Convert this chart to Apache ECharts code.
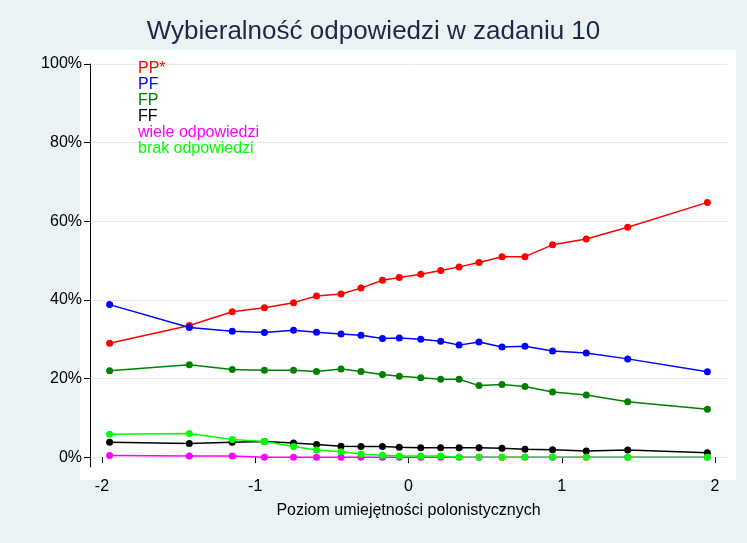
<!DOCTYPE html>
<html><head><meta charset="utf-8">
<script src="https://cdn.jsdelivr.net/npm/echarts@6/dist/echarts.min.js"></script>
<style>html,body{margin:0;padding:0;background:#eaf2f3}#c{width:747px;height:543px}</style>
</head><body><div id="c"></div>
<script>
// poziom umiejętności (oś X)
var xs = [-1.95,-1.43,-1.15,-0.94,-0.75,-0.60,-0.44,-0.31,-0.17,-0.06,0.08,0.21,0.33,0.46,0.61,0.76,0.94,1.16,1.43,1.95];
var xTicks = [-2,-1,0,1,2];
var yTicks = [0,20,40,60,80,100];
var names = ['PP*','PF','FP','FF','wiele odpowiedzi','brak odpowiedzi'];
var colors = ['#ff0000','#0000ff','#008000','#000000','#ff00ff','#00ff00'];
var pp = [29,33.5,37,38,39.3,41,41.5,43,45,45.7,46.5,47.5,48.4,49.5,51,51,54,55.5,58.5,64.8];
var pf = [38.8,33,32,31.7,32.3,31.8,31.3,31,30.2,30.3,30,29.5,28.5,29.3,28,28.2,27,26.5,25,21.7];
var fp = [22,23.5,22.3,22.1,22.1,21.8,22.4,21.8,21,20.6,20.2,19.8,19.8,18.2,18.5,18,16.6,15.8,14.1,12.2];
var ff = [3.8,3.5,3.8,4,3.6,3.2,2.8,2.7,2.7,2.5,2.4,2.4,2.4,2.4,2.3,2,1.9,1.6,1.8,1.1];
var wiele = [0.4,0.3,0.3,0,0,0,0,0,0,0,0,0,0,0,0,0,0,0,0,0];
var brak = [5.8,6,4.5,4,2.7,1.8,1.4,0.8,0.5,0.3,0.3,0.3,0,0,0,0,0,0,0,0];
var values = [pp,pf,fp,ff,wiele,brak];

var chart = echarts.init(document.getElementById('c'));
var series = values.map(function (v, k) {
    return {
        name: names[k], type: 'line', symbol: 'circle', symbolSize: 7,
        color: colors[k], lineStyle: {width: 1.5},
        data: v.map(function (y, i) { return [xs[i], y]; })
    };
});
var font = 'Liberation Sans';
chart.setOption({
    backgroundColor: '#eaf2f3',
    animation: false,
    title: {text: 'Wybieralność odpowiedzi w zadaniu 10', left: 'center', top: 14,
        textStyle: {color: '#1a2a4a', fontWeight: 'normal', fontSize: 26, fontFamily: font}},
    graphic: [{type: 'rect', left: 80, top: 50, shape: {width: 656, height: 430}, style: {fill: '#fff'}, z: -1}],
    legend: {
        orient: 'vertical', left: 128, top: 56, itemWidth: 0, itemHeight: 0, itemGap: 0,
        icon: 'none', textStyle: {fontSize: 16, fontFamily: font, lineHeight: 16},
        data: names.map(function (n, k) { return {name: n, textStyle: {color: colors[k]}}; })
    },
    grid: {left: 90, right: 20, top: 64, bottom: 76},
    xAxis: {type: 'value', min: -2.078, max: 2.078,
        name: 'Poziom umiejętności polonistycznych', nameLocation: 'middle', nameGap: 36,
        nameTextStyle: {color: '#000', fontSize: 16, fontFamily: font},
        axisLine: {show: false},
        axisTick: {show: true, length: 6, lineStyle: {color: '#000'}, customValues: xTicks},
        axisLabel: {color: '#000', fontSize: 16, fontFamily: font, customValues: xTicks, margin: 12},
        splitLine: {show: false}},
    yAxis: {type: 'value', min: -2.5, max: 100,
        axisLine: {show: true, onZero: false, lineStyle: {color: '#000'}},
        axisTick: {show: true, length: 6, customValues: yTicks},
        axisLabel: {color: '#000', fontSize: 16, fontFamily: font, formatter: '{value}%', customValues: yTicks},
        splitLine: {show: true, lineStyle: {color: '#e3ecec'}}},
    series: series
});
</script></body></html>
